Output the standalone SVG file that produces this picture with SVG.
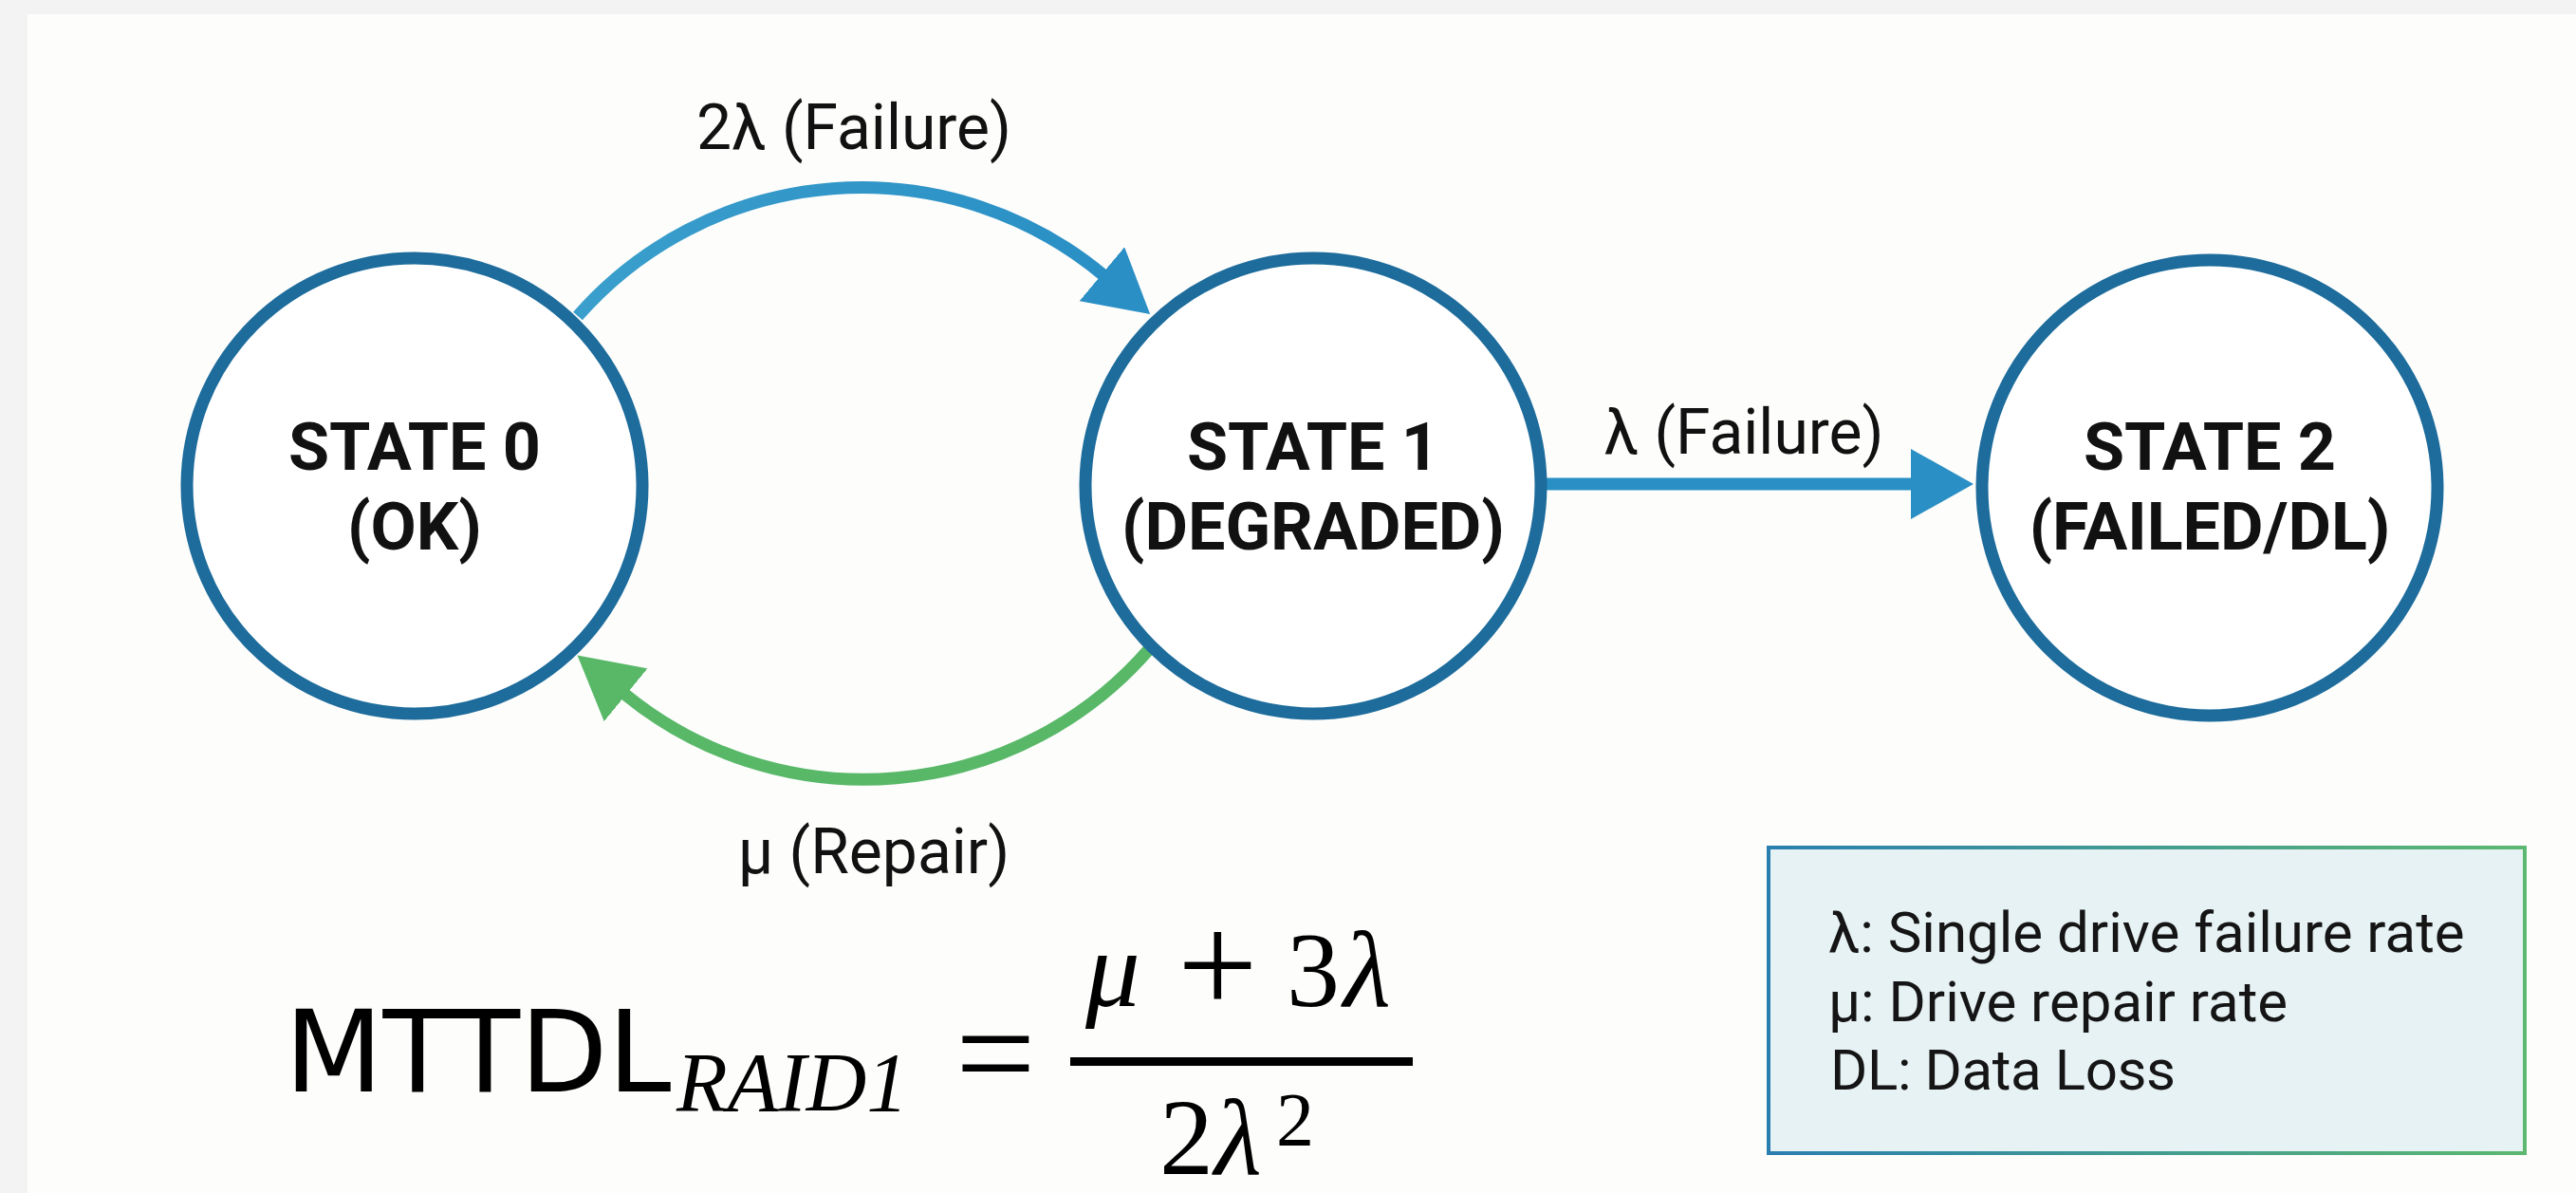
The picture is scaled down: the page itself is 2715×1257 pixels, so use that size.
<svg xmlns="http://www.w3.org/2000/svg" width="2715" height="1257" viewBox="0 0 2715 1257">
<defs>
  <style>
    .state { fill: #ffffff; stroke: #1d6c9c; stroke-width: 13; }
    .stxt { font-family: Roboto, "Liberation Sans", sans-serif; font-weight: 700; font-size: 70px; fill: #111111; text-anchor: middle; }
    .lbl { font-family: Roboto, "Liberation Sans", sans-serif; font-size: 66px; fill: #111111; text-anchor: middle; }
    .leg { font-family: Roboto, "Liberation Sans", sans-serif; font-size: 60px; fill: #151515; }
    .math { font-family: "Liberation Serif", serif; fill: #000000; }
    .it { font-style: italic; }
    .edge { fill: none; stroke-width: 13; }
  </style>
  <linearGradient id="gTop" gradientUnits="userSpaceOnUse" x1="609" y1="333" x2="1163" y2="290">
    <stop offset="0" stop-color="#3a9fcc"/>
    <stop offset="1" stop-color="#2a8fc4"/>
  </linearGradient>
  <linearGradient id="gBox" x1="0" y1="0" x2="1" y2="0">
    <stop offset="0" stop-color="#2a7fb0"/>
    <stop offset="1" stop-color="#5cb870"/>
  </linearGradient>
  <marker id="headBlue" markerUnits="userSpaceOnUse" markerWidth="66" markerHeight="74" viewBox="0 0 66 74" refX="2" refY="37" orient="auto">
    <polygon points="0,0 66,37 0,74" fill="#2a8fc4"/>
  </marker>
  <marker id="headGreen" markerUnits="userSpaceOnUse" markerWidth="66" markerHeight="72" viewBox="0 0 66 72" refX="2" refY="36" orient="auto">
    <polygon points="0,0 66,36 0,72" fill="#58b868"/>
  </marker>
</defs>
<rect x="0" y="0" width="2715" height="1257" fill="#f3f3f3"/>
<rect x="29" y="15" width="2686" height="1242" fill="#fdfdfc"/>

<g id="connectors">
  <path class="edge" d="M609,333 A398,398 0 0 1 1163,290" stroke="url(#gTop)" marker-end="url(#headBlue)"/>
  <path class="edge" d="M1630,510 L2016,510" stroke="#2a8fc4" stroke-width="14" marker-end="url(#headBlue)"/>
  <path class="edge" d="M1212,683 A398,398 0 0 1 658,731" stroke="#58b868" marker-end="url(#headGreen)"/>
  <text class="lbl" x="900" y="157">2λ (Failure)</text>
  <text class="lbl" x="1838" y="478">λ (Failure)</text>
  <text class="lbl" x="921" y="920">μ (Repair)</text>
</g>

<g id="state0">
  <circle class="state" cx="437" cy="512" r="240"/>
  <text class="stxt" x="437" y="495">STATE 0</text>
  <text class="stxt" x="437" y="579">(OK)</text>
</g>
<g id="state1">
  <circle class="state" cx="1384" cy="512" r="240"/>
  <text class="stxt" x="1384" y="495">STATE 1</text>
  <text class="stxt" x="1384" y="579">(DEGRADED)</text>
</g>
<g id="state2">
  <circle class="state" cx="2329" cy="514" r="240"/>
  <text class="stxt" x="2329" y="495">STATE 2</text>
  <text class="stxt" x="2329" y="579">(FAILED/DL)</text>
</g>

<g id="legend">
  <rect x="1864" y="893" width="797" height="322" fill="#e7f2f4" stroke="url(#gBox)" stroke-width="4"/>
  <text class="leg" x="1927" y="1003">λ: Single drive failure rate</text>
  <text class="leg" x="1927" y="1076">μ: Drive repair rate</text>
  <text class="leg" x="1929" y="1148" textLength="364" lengthAdjust="spacing">DL: Data Loss</text>
</g>

<g id="formula">
  <text x="300" y="1150" font-family="'DejaVu Sans', sans-serif" font-size="120" fill="#000">MTTDL</text>
  <text class="math it" x="713" y="1170" font-size="88">RAID1</text>
  <text class="math" x="1007" y="1160" font-size="150">=</text>
  <rect x="1128" y="1114" width="361" height="9" fill="#000"/>
  <text class="math it" x="1144" y="1060" font-size="115">μ</text>
  <text class="math" x="1241" y="1067" font-size="150">+</text>
  <text class="math" x="1356" y="1060" font-size="112">3</text>
  <text class="math it" x="1416" y="1060" font-size="115">λ</text>
  <text class="math" x="1222" y="1237" font-size="114">2</text>
  <text class="math it" x="1280" y="1237" font-size="115">λ</text>
  <text class="math" x="1345" y="1207" font-size="80">2</text>
</g>
</svg>
